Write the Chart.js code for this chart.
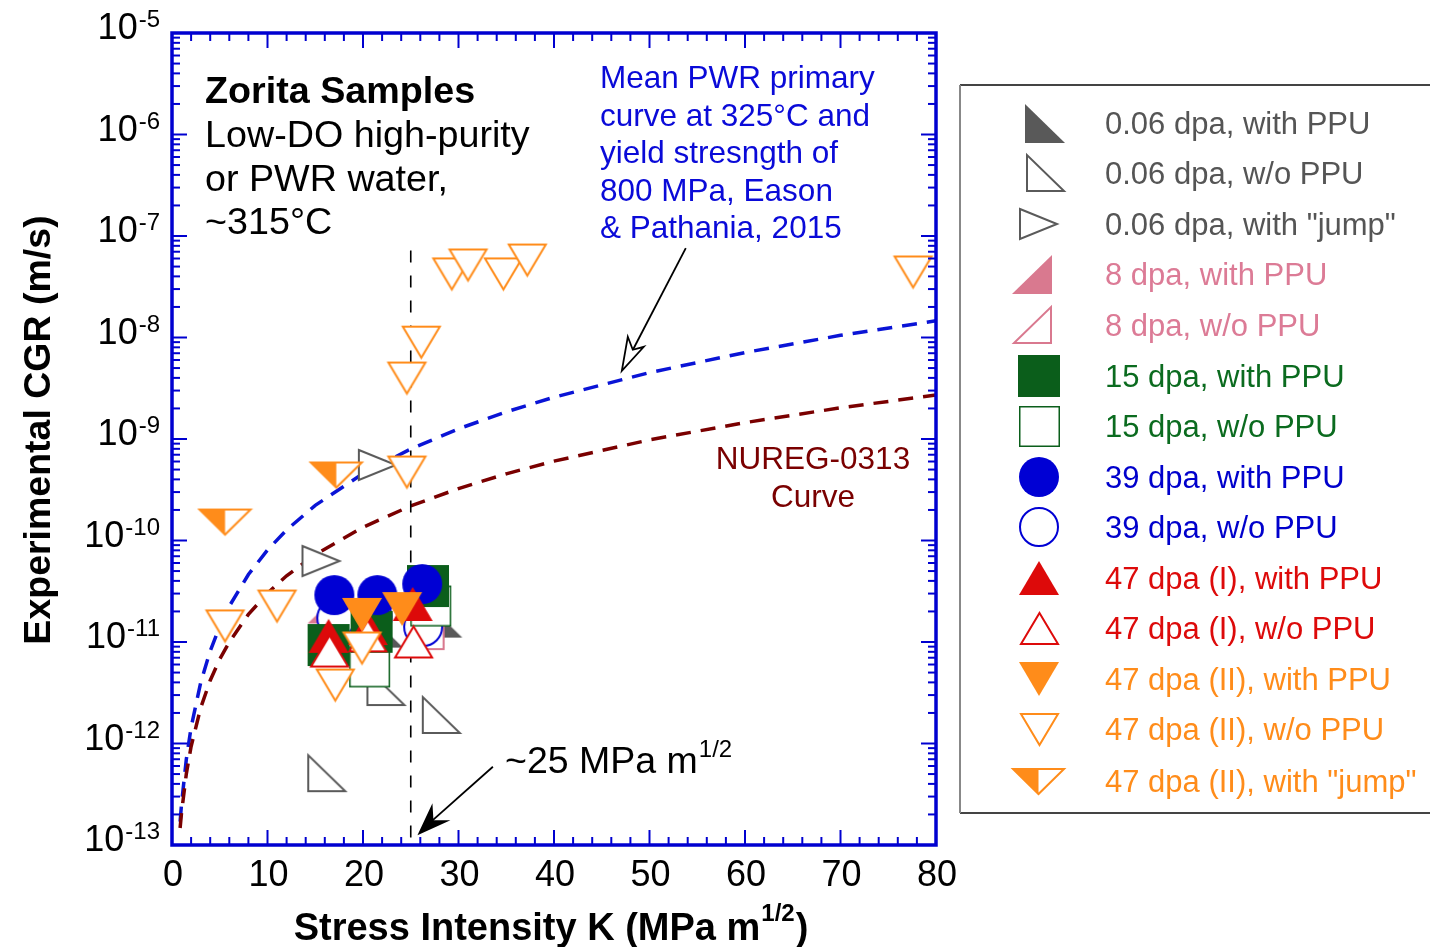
<!DOCTYPE html>
<html><head><meta charset="utf-8">
<script src="https://cdn.jsdelivr.net/npm/chart.js@4.4.1/dist/chart.umd.min.js"></script>
<style>html,body{margin:0;padding:0;background:#fff;}#wrap{width:1430px;height:947px;}</style>
</head><body><div id="wrap"><canvas id="c" width="1430" height="947"></canvas></div>
<script>
// ---------- DATA (K in MPa m^1/2, CGR in m/s) ----------
const g006WithPPU   = [[22.1,1.37e-11],[28.3,1.72e-11]];
const g006NoPPU     = [[16.2,5.1e-13],[28.2,1.91e-12],[22.4,3.6e-12]];
const g006Jump      = [[15.6,6.28e-11],[21.5,5.55e-10]];
const p8WithPPU     = [[16.3,2.37e-11],[26.4,1.34e-11]];
const p8NoPPU       = [[26.5,1.28e-11]];
const g15WithPPU    = [[16.4,9.33e-12],[20.9,1.26e-11],[26.8,3.56e-11]];
const g15NoPPU      = [[20.7,5.68e-12],[27.1,2.26e-11]];
const b39WithPPU    = [[17.0,2.9e-11],[21.5,2.9e-11],[26.2,3.72e-11]];
const b39NoPPU      = [[17.2,1.72e-11],[21.0,1.76e-11],[26.3,1.41e-11]];
const r47IWithPPU   = [[16.4,1.15e-11],[20.5,1.37e-11],[25.2,2.37e-11]];
const r47INoPPU     = [[16.5,8.15e-12],[20.5,1.15e-11],[25.3,1.0e-11]];
const o47IIWithPPU  = [[19.9,1.85e-11],[24.1,2.11e-11]];
const o47IINoPPU    = [[29.3,4.23e-8],[31.0,5.18e-8],[34.7,4.23e-8],[37.2,5.8e-8],[26.1,9.0e-9],[24.6,3.99e-9],
                       [77.6,4.42e-8],[24.6,4.73e-10],[11.0,2.26e-11],[5.55,1.44e-11],[19.9,8.73e-12],[17.1,3.77e-12]];
const o47IIJump     = [[5.55,1.52e-10],[17.2,4.42e-10]];

const curveK   = [0.85,1,1.5,2,3,4,5,6,8,10,12,15,20,25,30,35,40,50,60,70,80];
const meanPWR  = [1.7e-13,2.55e-13,7.0e-13,1.44e-12,3.97e-12,8.16e-12,1.43e-11,2.25e-11,4.62e-11,8.06e-11,1.27e-10,2.22e-10,4.56e-10,7.97e-10,1.26e-9,1.85e-9,2.58e-9,4.51e-9,7.11e-9,1.05e-8,1.46e-8];
const nureg    = [1.47e-13,2.09e-13,5.02e-13,9.35e-13,2.24e-12,4.18e-12,6.77e-12,1.0e-11,1.87e-11,3.03e-11,4.49e-11,7.27e-11,1.35e-10,2.19e-10,3.25e-10,4.54e-10,6.05e-10,9.81e-10,1.45e-9,2.03e-9,2.71e-9];
const thresholdK = 25;
const thresholdSpan = [7.2e-8, 1.15e-13];

const xTickLabels = ['0','10','20','30','40','50','60','70','80'];
const yTickExps = [-13,-12,-11,-10,-9,-8,-7,-6,-5];

// ---------- STYLE ----------
const AXIS = '#0000d0';
const C_GRAY='#595959', C_PINK='#d9798f', C_GREEN='#0b5e1b', C_BLUE='#0000d4', C_RED='#dd0a0a', C_ORANGE='#ff8c1a';
const FONT = '"Liberation Sans", Arial, Helvetica, sans-serif';

function makeMarker(kind, color, w, h, filled, lw) {
  const pad = 2;
  const c = document.createElement('canvas');
  c.width = w + 2*pad; c.height = h + 2*pad;
  const g = c.getContext('2d');
  g.translate(pad, pad);
  g.lineJoin = 'miter';
  g.beginPath();
  if (kind === 'circle') {
    g.arc(w/2, h/2, w/2 - (filled?0:lw/2), 0, Math.PI*2);
  } else {
    let pts;
    const o = filled ? 0 : lw/2;
    switch (kind) {
      case 'rtL': pts=[[o,o],[o,h-o],[w-o,h-o]]; break;
      case 'rtR': pts=[[w-o,o],[w-o,h-o],[o,h-o]]; break;
      case 'right': pts=[[o,o],[w-o,h/2],[o,h-o]]; break;
      case 'up': pts=[[w/2,o],[w-o,h-o],[o,h-o]]; break;
      case 'down': case 'jump': pts=[[o,o],[w-o,o],[w/2,h-o]]; break;
      case 'square': pts=[[o,o],[w-o,o],[w-o,h-o],[o,h-o]]; break;
    }
    pts.forEach((p,i)=> i? g.lineTo(p[0],p[1]) : g.moveTo(p[0],p[1]));
    g.closePath();
  }
  if (filled) { g.fillStyle = color; g.fill(); }
  else {
    g.fillStyle = '#fff'; g.fill();
    if (kind === 'jump') {
      g.save(); g.beginPath(); g.moveTo(lw/2,lw/2); g.lineTo(w/2,lw/2); g.lineTo(w/2,h-lw/2); g.closePath();
      g.fillStyle = color; g.fill(); g.restore();
      g.beginPath(); g.moveTo(lw/2,lw/2); g.lineTo(w-lw/2,lw/2); g.lineTo(w/2,h-lw/2); g.closePath();
    }
    g.strokeStyle = color; g.lineWidth = lw; g.stroke();
  }
  return c;
}

const series = [
  {label:'0.06 dpa, with PPU', data:g006WithPPU, text:'#555555', m:makeMarker('rtL',C_GRAY,40,39,true,0), lx:1045, ly:123},
  {label:'0.06 dpa, w/o PPU', data:g006NoPPU, text:'#555555', m:makeMarker('rtL','#5a5a5a',39,38,false,2), lx:1045, ly:173},
  {label:'0.06 dpa, with "jump"', data:g006Jump, text:'#555555', m:makeMarker('right','#5a5a5a',39,32,false,2), lx:1038, ly:224},
  {label:'8 dpa, with PPU', data:p8WithPPU, text:'#dc7b96', m:makeMarker('rtR',C_PINK,40,39,true,0), lx:1032, ly:274},
  {label:'8 dpa, w/o PPU', data:p8NoPPU, text:'#dc7b96', m:makeMarker('rtR',C_PINK,39,38,false,2), lx:1032, ly:325},
  {label:'15 dpa, with PPU', data:g15WithPPU, text:'#0b6b1f', m:makeMarker('square',C_GREEN,42,42,true,0), lx:1039, ly:376},
  {label:'15 dpa, w/o PPU', data:g15NoPPU, text:'#0b6b1f', m:makeMarker('square',C_GREEN,41,41,false,1.5), lx:1039, ly:426},
  {label:'39 dpa, with PPU', data:b39WithPPU, text:'#0000cc', m:makeMarker('circle',C_BLUE,40,40,true,0), lx:1039, ly:477},
  {label:'39 dpa, w/o PPU', data:b39NoPPU, text:'#0000cc', m:makeMarker('circle',C_BLUE,40,40,false,2), lx:1039, ly:527},
  {label:'47 dpa (I), with PPU', data:r47IWithPPU, text:'#dd0a0a', m:makeMarker('up',C_RED,40,34,true,0), lx:1039, ly:578},
  {label:'47 dpa (I), w/o PPU', data:r47INoPPU, text:'#dd0a0a', m:makeMarker('up',C_RED,39,33,false,2), lx:1039, ly:628},
  {label:'47 dpa (II), with PPU', data:o47IIWithPPU, text:'#ff8c1a', m:makeMarker('down',C_ORANGE,40,34,true,0), lx:1039, ly:679},
  {label:'47 dpa (II), w/o PPU', data:o47IINoPPU, text:'#ff8c1a', m:makeMarker('down',C_ORANGE,39,33,false,2), lx:1039, ly:729},
  {label:'47 dpa (II), with "jump"', data:o47IIJump, text:'#ff8c1a', m:makeMarker('jump',C_ORANGE,53,27,false,2), lx:1038, ly:781}
];
// stacking (bottom -> top) as seen in the figure
const drawSeq = [0,1,2,3,4,8,6,5,7,9,10,11,12,13];

const datasets = [];
datasets.push({label:'Mean PWR', data:curveK.map((k,i)=>({x:k,y:meanPWR[i]})), showLine:true, pointRadius:0,
  borderColor:'#0a14d6', borderWidth:3.5, borderDash:[15,10], fill:false, order:200});
datasets.push({label:'NUREG-0313', data:curveK.map((k,i)=>({x:k,y:nureg[i]})), showLine:true, pointRadius:0,
  borderColor:'#7a0000', borderWidth:3.5, borderDash:[15,10], fill:false, order:199});
datasets.push({label:'25', data:thresholdSpan.map(v=>({x:thresholdK,y:v})), showLine:true, pointRadius:0,
  borderColor:'#000', borderWidth:1.6, borderDash:[12,13], fill:false, order:198});
series.forEach((s,i)=>{
  datasets.push({label:s.label, data:s.data.map(p=>({x:p[0],y:p[1]})), showLine:false,
    pointStyle:s.m, pointRadius:20, pointHoverRadius:20, order:100-drawSeq.indexOf(i)});
});

function supText(ctx, base, sup, x, y, bf, sf, rise, align) {
  ctx.font = bf; const wb = ctx.measureText(base).width;
  ctx.font = sf; const ws = ctx.measureText(sup).width;
  let x0 = x;
  if (align === 'right') x0 = x - wb - ws - 1;
  else if (align === 'center') x0 = x - (wb + ws)/2;
  ctx.textAlign = 'left'; ctx.textBaseline = 'alphabetic';
  ctx.font = bf; ctx.fillText(base, x0, y);
  ctx.font = sf; ctx.fillText(sup, x0 + wb + 1, y - rise);
}

function arrowHead(ctx, tip, wl, notch, wr) {
  ctx.beginPath(); ctx.moveTo(tip[0],tip[1]); ctx.lineTo(wl[0],wl[1]); ctx.lineTo(notch[0],notch[1]); ctx.lineTo(wr[0],wr[1]); ctx.closePath();
}

const framePlugin = {
  id:'frame',
  afterDraw(chart) {
    const {ctx, chartArea:a, scales:{x,y}} = chart;
    const X = v=>x.getPixelForValue(v), Y = v=>y.getPixelForValue(v);
    ctx.save();
    ctx.strokeStyle = AXIS; ctx.lineWidth = 2;
    const ln = (x1,y1,x2,y2)=>{ctx.beginPath();ctx.moveTo(x1,y1);ctx.lineTo(x2,y2);ctx.stroke();};
    for (let d=-13; d<=-6; d++) for (let m=1; m<=9; m++) {
      const py = Y(m*Math.pow(10,d)); const len = m===1?15:8;
      ln(a.left,py,a.left+len,py); ln(a.right,py,a.right-len,py);
    }
    for (let k=0;k<=80;k+=2){ const px=X(k); const len = k%10===0?15:8;
      ln(px,a.bottom,px,a.bottom-len); ln(px,a.top,px,a.top+len); }
    ctx.lineWidth = 3.5;
    ctx.strokeRect(a.left,a.top,a.right-a.left,a.bottom-a.top);

    // tick labels
    ctx.fillStyle = '#000';
    ctx.font = '36px '+FONT; ctx.textAlign='center'; ctx.textBaseline='alphabetic';
    xTickLabels.forEach(t=>{ ctx.fillText(t, X(+t)+1, a.bottom+41); });
    yTickExps.forEach(e=>{ const py=Y(Math.pow(10,e));
      supText(ctx,'10',String(e),160,py+6,'36px '+FONT,'24px '+FONT,12,'right'); });

    // axis titles
    {
      const bf='bold 38px '+FONT, sf='bold 24px '+FONT;
      const t1='Stress Intensity K (MPa m', t2='1/2', t3=')';
      ctx.font=bf; const w1=ctx.measureText(t1).width, w3=ctx.measureText(t3).width;
      ctx.font=sf; const w2=ctx.measureText(t2).width;
      let x0 = 551 - (w1+w2+w3+2)/2; const yb=940;
      ctx.textAlign='left';
      ctx.font=bf; ctx.fillText(t1,x0,yb);
      ctx.font=sf; ctx.fillText(t2,x0+w1+1,yb-19);
      ctx.font=bf; ctx.fillText(t3,x0+w1+w2+2,yb);
    }
    ctx.save(); ctx.translate(50,430); ctx.rotate(-Math.PI/2);
    ctx.font='bold 37.5px '+FONT; ctx.textAlign='center'; ctx.fillText('Experimental CGR (m/s)',0,0);
    ctx.restore();

    // annotation texts
    ctx.textAlign='left';
    ctx.font='bold 37.7px '+FONT; ctx.fillText('Zorita Samples',205,103);
    ctx.font='37.7px '+FONT;
    ctx.fillText('Low-DO high-purity',205,147);
    ctx.fillText('or PWR water,',205,191);
    ctx.fillText('~315°C',205,234);

    ctx.fillStyle='#0a0ad8'; ctx.font='31.5px '+FONT;
    ['Mean PWR primary','curve at 325°C and','yield stresngth of','800 MPa, Eason','& Pathania, 2015']
      .forEach((t,i)=>ctx.fillText(t,600,88+i*37.5));

    ctx.fillStyle='#7a0000'; ctx.textAlign='center';
    ctx.fillText('NUREG-0313',813,469); ctx.fillText('Curve',813,507);

    ctx.fillStyle='#000';
    supText(ctx,'~25 MPa m','1/2',505,773,'37.5px '+FONT,'24px '+FONT,16,'left');

    // arrows (anchored in data space)
    ctx.strokeStyle='#000'; ctx.lineWidth=1.8;
    const t1=[X(47.1),Y(4.7e-9)], s1=[X(53.8),Y(7.6e-8)];
    ln(s1[0],s1[1],t1[0]+8,t1[1]-15);
    ctx.fillStyle='#fff';
    arrowHead(ctx,t1,[t1[0]+6,t1[1]-34],[t1[0]+11,t1[1]-21],[t1[0]+22,t1[1]-24]);
    ctx.fill(); ctx.stroke();
    const t2=[X(25.7),Y(1.25e-13)], s2=[X(33.6),Y(5.9e-13)];
    ln(s2[0],s2[1],t2[0]+12,t2[1]-12);
    ctx.fillStyle='#000';
    arrowHead(ctx,t2,[t2[0]+15,t2[1]-32],[t2[0]+16,t2[1]-15],[t2[0]+33,t2[1]-15]);
    ctx.fill();

    // legend
    ctx.strokeStyle='#444'; ctx.lineWidth=2;
    ln(960,85,1430,85); ln(960,813,1430,813);
    ctx.strokeStyle='#888'; ln(960,85,960,813);
    ctx.font='31px '+FONT; ctx.textAlign='left';
    series.forEach(s=>{
      ctx.drawImage(s.m, Math.round(s.lx - s.m.width/2), Math.round(s.ly - s.m.height/2));
      ctx.fillStyle=s.text; ctx.fillText(s.label,1105,s.ly+11);
    });
    ctx.restore();
  }
};

new Chart(document.getElementById('c'), {
  type:'scatter',
  data:{datasets},
  options:{
    responsive:false, animation:false, devicePixelRatio:1, events:[],
    layout:{padding:{left:172, top:33, right:494, bottom:102}},
    scales:{
      x:{type:'linear', min:0, max:80, display:false},
      y:{type:'logarithmic', min:1e-13, max:1e-5, display:false}
    },
    plugins:{legend:{display:false}, tooltip:{enabled:false}}
  },
  plugins:[framePlugin]
});
</script></body></html>
